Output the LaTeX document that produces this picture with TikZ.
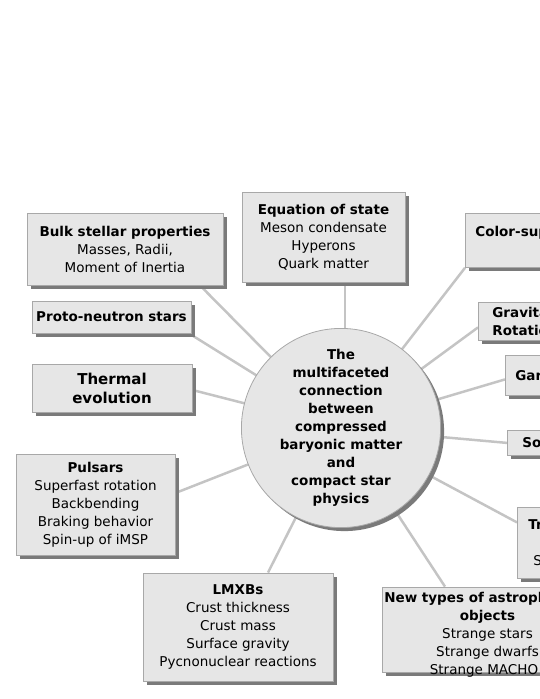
\documentclass[tikz,border=0pt]{standalone}
\usepackage{fontspec}
\setmainfont{DejaVu Sans}
\usetikzlibrary{shadows,backgrounds}
\definecolor{boxfill}{HTML}{E6E6E6}
\definecolor{boxline}{HTML}{A8A8A8}
\definecolor{shadowc}{HTML}{7A7A7A}
\definecolor{spokec}{HTML}{C4C4C4}

\begin{document}
\begin{tikzpicture}[
  x=1pt, y=1pt,
  box/.style={draw=boxline, line width=0.8pt, fill=boxfill, align=center, inner sep=0pt,
    font=\fontsize{13.5}{18}\selectfont,
    drop shadow={shadow xshift=3.5pt, shadow yshift=-3.5pt, fill=shadowc, opacity=1}},
  cutbox/.style={box, anchor=north west, align=left, text width=120pt},
  hub/.style={box, circle, minimum size=194pt, font=\fontsize{13.5}{18}\selectfont\bfseries},
  boxtext/.style={align=center, inner sep=0pt, font=\fontsize{13.5}{18}\selectfont},
  spoke/.style={draw=spokec, line width=2.5pt}
]
\useasboundingbox (0,0) rectangle (540,-699);
\clip (0,0) rectangle (540,-699);

% hub
\node[hub] (core) at (341,-428) {The\\multifaceted\\connection\\between\\compressed\\baryonic matter\\and\\compact star\\physics};

% left and top
\node[box, minimum width=196pt, minimum height=72pt] (bulk) at (125,-249) {\textbf{Bulk stellar properties}\\Masses, Radii,\\Moment of Inertia};
\node[box, minimum width=159pt, minimum height=32pt] (proto) at (111.5,-317) {\textbf{Proto-neutron stars}};
\node[box, minimum width=160pt, minimum height=48pt, font=\fontsize{15}{19}\selectfont\bfseries] (thermal) at (112,-388) {Thermal\\evolution};
\node[box, minimum width=163pt, minimum height=90pt] (eos) at (323.5,-237) {\textbf{Equation of state}\\Meson condensate\\Hyperons\\Quark matter};
\node[box, minimum width=159pt, minimum height=101pt] (pulsars) at (95.5,-504.5) {\textbf{Pulsars}\\Superfast rotation\\Backbending\\Braking behavior\\Spin-up of iMSP};
\node[box, minimum width=190pt, minimum height=108pt] (lmxb) at (238,-627) {\textbf{LMXBs}\\Crust thickness\\Crust mass\\Surface gravity\\Pycnonuclear reactions};

% right, cut by the frame
\node[cutbox, inner xsep=10pt, minimum height=54pt] (color) at (465,-213) {\textbf{Color-sup}\\\mbox{}};
\node[cutbox, inner xsep=14pt, minimum height=38pt] (grav) at (478,-302) {\textbf{Gravita}\\\textbf{Rotatio}};
\node[cutbox, inner xsep=10pt, minimum height=40pt] (gamma) at (505,-355) {\textbf{Gar}};
\node[cutbox, inner xsep=15pt, minimum height=25pt] (soft) at (507,-430) {\textbf{So}};
\node[cutbox, inner xsep=11pt, minimum height=71pt] (trans) at (517,-507) {\textbf{Tr}\\\mbox{}\\\hspace*{5pt}S};
\node[box, minimum width=211pt, minimum height=85pt] (newobj) at (487.5,-629.5) {};
\node[boxtext] (newtxt) at (487.5,-635) {\textbf{New types of astroph\phantom{ysical}}\\\textbf{objects}\\Strange stars\\Strange dwarfs\\Strange MACHO\phantom{s}};

\begin{pgfonlayer}{background}
\draw[spoke] (core.center) -- ([xshift=75pt]bulk.south);
\draw[spoke] (core.center) -- ([xshift=77.5pt]proto.south);
\draw[spoke] (core.center) -- ([yshift=-2pt]thermal.east);
\draw[spoke] ([xshift=4pt]core.center) -- ([xshift=21.5pt]eos.south);
\draw[spoke] (core.center) -- (color.south west);
\draw[spoke] (core.center) -- ([yshift=-6pt]grav.west);
\draw[spoke] (core.center) -- ([yshift=-4pt]gamma.west);
\draw[spoke] (core.center) -- (soft.west);
\draw[spoke] (core.center) -- ([yshift=20.5pt]trans.west);
\draw[spoke] (core.center) -- ([xshift=-42.5pt]newobj.north);
\draw[spoke] (core.center) -- ([xshift=30pt]lmxb.north);
\draw[spoke] (core.center) -- ([yshift=11.5pt]pulsars.east);
\end{pgfonlayer}
\end{tikzpicture}
\end{document}
